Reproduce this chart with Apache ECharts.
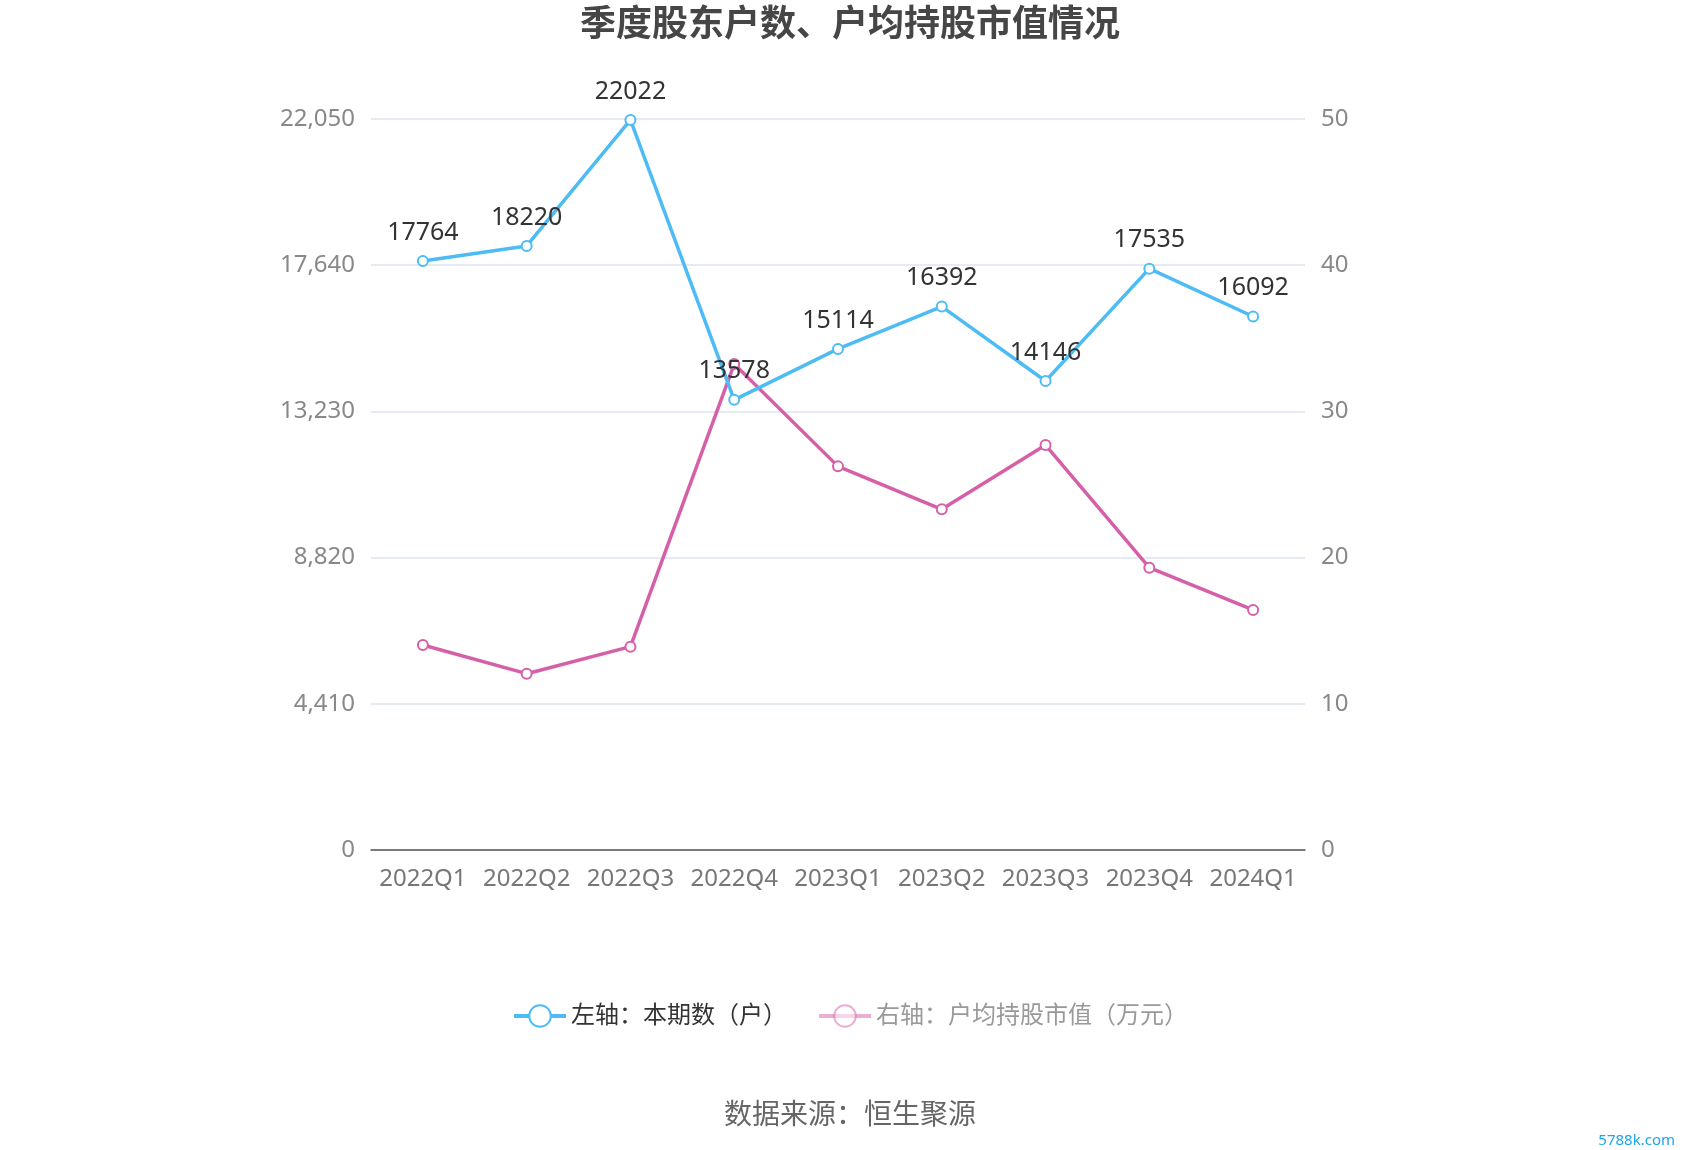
<!DOCTYPE html>
<html><head><meta charset="utf-8">
<script src="https://cdn.jsdelivr.net/npm/echarts@6/dist/echarts.min.js"></script>
<style>html,body{margin:0;padding:0;background:#fff}#c{width:1700px;height:1150px}</style>
</head><body><div id="c"></div>
<script>
const categories = ['2022Q1','2022Q2','2022Q3','2022Q4','2023Q1','2023Q2','2023Q3','2023Q4','2024Q1'];
const holders = [17764, 18220, 22022, 13578, 15114, 16392, 14146, 17535, 16092];
const avgValue = [14.02, 12.06, 13.91, 33.24, 26.24, 23.30, 27.70, 19.31, 16.42];
const leftTicks = [0, 4410, 8820, 13230, 17640, 22050];
const rightTicks = [0, 10, 20, 30, 40, 50];
const seriesNames = ['左轴：本期数（户）', '右轴：户均持股市值（万元）'];

const FONT = '"Noto Sans", "Noto Sans CJK SC", sans-serif';
const chart = echarts.init(document.getElementById('c'));
chart.setOption({
  backgroundColor: '#fff',
  textStyle: { fontFamily: FONT },
  title: [
    { text: '季度股东户数、户均持股市值情况', left: 'center', top: 3,
      textStyle: { fontSize: 36, fontWeight: 'bold', color: '#464646', fontFamily: FONT } },
    { text: '数据来源：恒生聚源', left: 'center', top: 1097,
      textStyle: { fontSize: 28, fontWeight: 'normal', color: '#666', fontFamily: FONT } },
    { text: '5788k.com', right: 20, top: 1128,
      textStyle: { fontSize: 15, fontWeight: 'normal', color: '#1aa6ea', fontFamily: FONT } }
  ],
  legend: {
    bottom: 117, left: 'center', itemWidth: 52, itemHeight: 27, itemGap: 30,
    textStyle: { fontSize: 24, color: '#333', fontFamily: FONT },
    lineStyle: { width: 4 },
    itemStyle: { borderWidth: 3.5 },
    data: [
      { name: seriesNames[0] },
      { name: seriesNames[1], textStyle: { color: '#999' }, itemStyle: { opacity: 0.5 }, lineStyle: { opacity: 0.5 } }
    ]
  },
  grid: { left: 371, right: 395, top: 119, bottom: 300, containLabel: false },
  xAxis: {
    type: 'category', data: categories, boundaryGap: true,
    axisLine: { lineStyle: { color: '#555', width: 1.5 } },
    axisTick: { alignWithLabel: true, length: 6, lineStyle: { color: '#555' } },
    axisLabel: { interval: 0, fontSize: 24, color: '#777', margin: 17, fontFamily: FONT }
  },
  yAxis: [
    { type: 'value', min: leftTicks[0], max: leftTicks[leftTicks.length-1], interval: leftTicks[1]-leftTicks[0],
      axisLine: { show: false }, axisTick: { show: false },
      splitLine: { lineStyle: { color: '#dde3ef', width: 1.5 } },
      axisLabel: { fontSize: 24, color: '#888', margin: 16, fontFamily: FONT,
        formatter: v => v.toLocaleString('en-US') } },
    { type: 'value', min: rightTicks[0], max: rightTicks[rightTicks.length-1], interval: rightTicks[1]-rightTicks[0],
      axisLine: { show: false }, axisTick: { show: false },
      splitLine: { show: false },
      axisLabel: { fontSize: 24, color: '#888', margin: 16, fontFamily: FONT } }
  ],
  series: [
    { name: seriesNames[0], type: 'line', yAxisIndex: 0, data: holders,
      symbol: 'emptyCircle', symbolSize: 10, z: 3,
      lineStyle: { color: '#4dbcf4', width: 3.5 },
      itemStyle: { color: '#4dbcf4', borderWidth: 3 },
      label: { show: true, position: 'top', distance: 10, fontSize: 25, color: '#333', fontFamily: FONT } },
    { name: seriesNames[1], type: 'line', yAxisIndex: 1, data: avgValue,
      symbol: 'emptyCircle', symbolSize: 10, z: 2,
      lineStyle: { color: '#d660a8', width: 3.5 },
      itemStyle: { color: '#d660a8', borderWidth: 3 } }
  ]
});
</script></body></html>
